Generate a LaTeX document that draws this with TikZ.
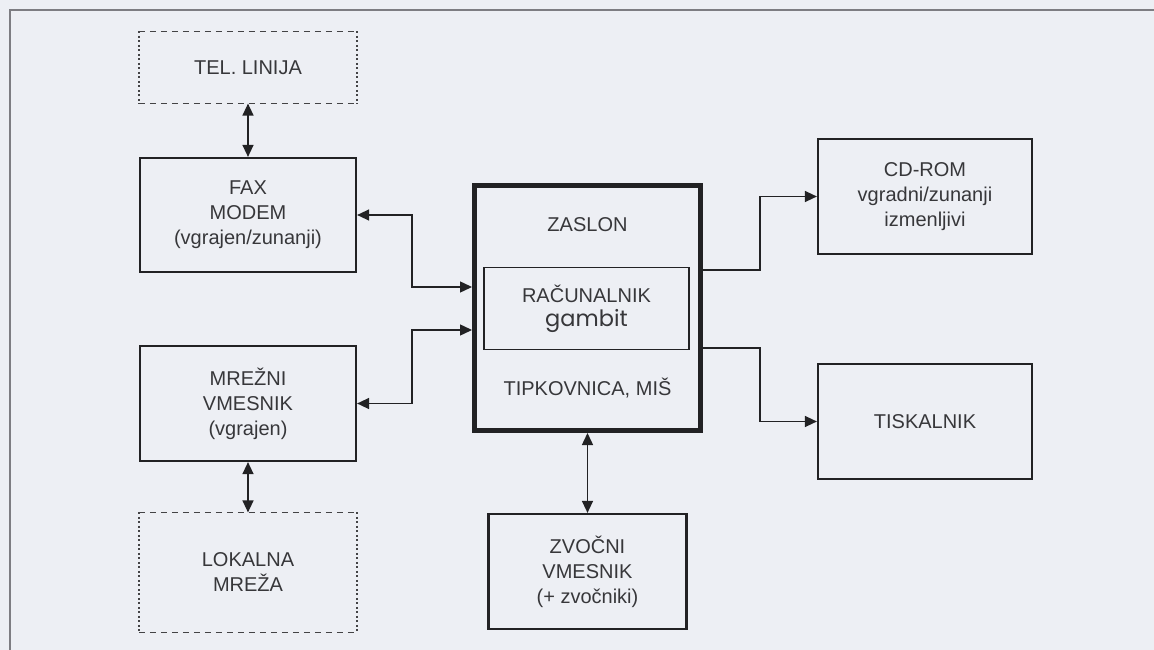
\documentclass[tikz,border=0pt]{standalone}
\usepackage{fontspec}
\setmainfont{Liberation Sans}
\newfontfamily\gambitfont{Poppins}
\usetikzlibrary{arrows.meta}
\definecolor{bg}{RGB}{237,239,244}
\definecolor{ink}{RGB}{34,34,36}
\definecolor{txt}{RGB}{55,55,58}
\definecolor{framec}{RGB}{125,125,130}
\begin{document}
\begin{tikzpicture}[x=1pt,y=-1pt,
  box/.style={draw=ink, line width=2.2pt, minimum width=216pt, minimum height=114pt,
    align=center, text=txt, font=\fontsize{20}{25}\selectfont, inner sep=0pt},
  dbox/.style={box, draw=none},
  lbl/.style={text=txt, font=\fontsize{20}{25}\selectfont, inner sep=0pt},
  conn/.style={draw=ink, line width=1.4pt},
  tip/.style={-{Triangle[length=12pt,width=11pt]}},
  both/.style={{Triangle[length=12pt,width=11pt]}-{Triangle[length=12pt,width=11pt]}},
  dashh/.style={draw=ink!85, line width=1.3pt, dash pattern=on 6pt off 5pt},
  dashv/.style={draw=ink!85, line width=1.3pt, dash pattern=on 2pt off 2.5pt},
]
\fill[bg] (0,0) rectangle (1154,650);
\useasboundingbox (0,0) rectangle (1154,650);
\draw[framec, line width=1.5pt] (10,650) -- (10,10) -- (1154,10);

% left column
\node[dbox, minimum height=70pt] (tel) at (248,67.5) {TEL. LINIJA};
\draw[dashh] (tel.north west) -- (tel.north east) (tel.south west) -- (tel.south east);
\draw[dashv] (tel.north west) -- (tel.south west) (tel.north east) -- (tel.south east);

\node[box] (fax) at (248,215) {FAX\\MODEM\\(vgrajen/zunanji)};
\node[box, minimum height=115pt] (net) at (248,403.5) {MREŽNI\\VMESNIK\\(vgrajen)};

\node[dbox, minimum height=118pt] (lan) at (248,572.5) {LOKALNA\\MREŽA};
\draw[dashh] (lan.north west) -- (lan.north east) (lan.south west) -- (lan.south east);
\draw[dashv] (lan.north west) -- (lan.south west) (lan.north east) -- (lan.south east);

% central unit
\node[box, line width=5pt, minimum width=226pt, minimum height=245pt] (pc) at (587.5,308) {};
\node[lbl] (zaslon) at (587.5,225) {ZASLON};
\node[box, line width=1.8pt, minimum width=205pt, minimum height=82pt] (cpu) at (586.5,308.5)
  {RAČUNALNIK\\[-1pt]{\gambitfont\fontsize{22.5}{25}\selectfont gambit}};
\node[lbl] (tipk) at (587.5,388) {TIPKOVNICA, MIŠ};

% right column
\node[box, minimum width=214pt, minimum height=115pt] (cd) at (925,196.5)
  {CD-ROM\\vgradni/zunanji\\izmenljivi};
\node[box, minimum width=214pt, minimum height=115pt] (tisk) at (925,421.5) {TISKALNIK};

% bottom
\node[box, minimum width=198pt, minimum height=115pt] (zvo) at (587.5,571.5)
  {ZVOČNI\\VMESNIK\\(+ zvočniki)};

% connectors
\draw[conn, both] (tel.south) -- (fax.north);
\draw[conn, both] (net.south) -- (lan.north);
\draw[conn, both] (pc.south) -- (zvo.north);
\draw[conn, both] (fax.east) -- ++(55,0) |- ([yshift=21pt]pc.west);
\draw[conn, both] ([yshift=-22pt]pc.west) -- ++(-60,0) |- (net.east);
\draw[conn, tip] ([yshift=38pt]pc.east) -- ++(57,0) |- (cd.west);
\draw[conn, tip] ([yshift=-40pt]pc.east) -- ++(57,0) |- (tisk.west);
\end{tikzpicture}
\end{document}
